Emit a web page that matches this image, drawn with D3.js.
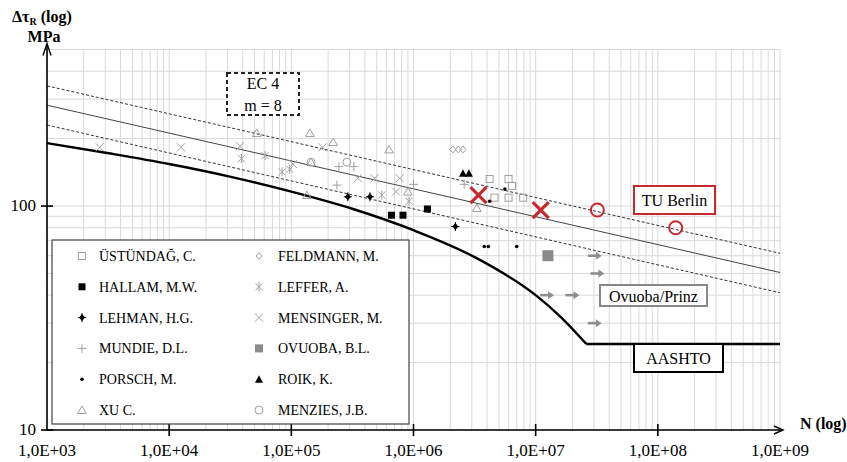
<!DOCTYPE html>
<html>
<head>
<meta charset="utf-8">
<script src="https://cdn.jsdelivr.net/npm/d3@7"></script>
<style>
  body { margin: 0; background: #fff; }
  svg, svg text { font-family: "Liberation Serif", "DejaVu Serif", serif; }
</style>
</head>
<body>
<svg id="chart" width="847" height="462" font-family="Liberation Serif, DejaVu Serif, serif"></svg>
<script>
// ---- data: [N, delta tau (MPa)] ----
var ustundag  = [[4.2e6,132],[6.0e6,132],[6.4e6,123],[4.6e6,109],[6.0e6,109],[7.9e6,109]];
var hallam    = [[6.6e5,91],[8.2e5,91],[1.3e6,97]];
var lehman    = [[2.9e5,110],[4.4e5,110],[2.2e6,81]];
var mundie    = [[2.45e5,150],[3.25e5,150],[2.36e5,124],[1.0e6,125],[2.6e6,125]];
var porsch    = [[5.6e6,119],[4.2e6,105],[3.8e6,66],[4.1e6,66],[7.0e6,66]];
var xu        = [[5.2e4,212],[1.42e5,212],[2.2e5,193],[6.3e5,179],[1.45e5,157],[1.34e5,112],[9.0e5,116],[3.3e6,98]];
var feldmann  = [[2.1e6,179],[2.33e6,179],[2.54e6,179]];
var leffer    = [[3.9e4,163],[6.1e4,168],[8.4e4,142],[9.7e4,146],[5.5e5,112],[9.2e5,105]];
var mensinger = [[2.7e3,183],[1.25e4,183],[3.8e4,185],[1.03e5,154],[1.8e5,183],[3.5e5,133],[4.8e5,133],[7.7e5,133],[7.2e5,116]];
var ovuoba    = [[1.26e7,60]];
var roik      = [[2.54e6,140],[2.84e6,140]];
var menzies   = [[2.85e5,157],[1.45e5,157]];

var tuBerlinX = [[3.4e6,112],[1.1e7,96]];
var tuBerlinO = [[3.2e7,96],[1.4e8,80]];
var runouts   = [[3.05e7,60],[3.2e7,50],[1.24e7,40],[2.0e7,40],[3.05e7,30]];

// EC 4 lines (m = 8): mean and the two dashed bounds
var ec4Mean  = [[1e3,282],[1e9,50.5]];
var ec4Upper = [[1e3,344],[1e9,61.5]];
var ec4Lower = [[1e3,230],[1e9,41]];

// AASHTO curve, then its constant-amplitude floor
var aashto = [[1e3,191],[3.2e3,172],[1e4,154],[3.2e4,135],[1e5,116],[3.2e5,97],
              [1e6,78],[3.2e6,59],[1e7,40],[1.6e7,32],[2.6e7,24.2]];
var aashtoFloor = [[2.6e7,24.2],[1e9,24.2]];

var xTicks = [1e3,1e4,1e5,1e6,1e7,1e8,1e9];
var xTickLabels = ["1,0E+03","1,0E+04","1,0E+05","1,0E+06","1,0E+07","1,0E+08","1,0E+09"];
var yTicks = [10,100];
var yTickLabels = ["10","100"];

var legendItems = [
  ["ÜSTÜNDAĞ, C.", "square", ustundag],
  ["HALLAM, M.W.", "squareFill", hallam],
  ["LEHMAN, H.G.", "diamondFill", lehman],
  ["MUNDIE, D.L.", "plus", mundie],
  ["PORSCH, M.", "dot", porsch],
  ["XU C.", "triangle", xu],
  ["FELDMANN, M.", "diamond", feldmann],
  ["LEFFER, A.", "asterisk", leffer],
  ["MENSINGER, M.", "cross", mensinger],
  ["OVUOBA, B.L.", "squareGray", ovuoba],
  ["ROIK, K.", "triangleFill", roik],
  ["MENZIES, J.B.", "circle", menzies]
];

// ---- setup ----
var svg = d3.select('#chart');
var x = d3.scaleLog().domain([1e3, 1e9]).range([47, 780]);
var y = d3.scaleLog().domain([10, 500]).range([430, 49.5]);
var gray = '#a0a0a0';
var red = '#c62a2f';

// grid lines (1..9 per decade)
var xGrid = [], yGrid = [];
for (var e = 3; e < 9; e++) for (var k = 1; k < 10; k++) xGrid.push(k * Math.pow(10, e));
xGrid.push(1e9);
for (var e2 = 1; e2 < 3; e2++) for (var k2 = 1; k2 < 10; k2++) {
  var v = k2 * Math.pow(10, e2);
  if (v <= 500) yGrid.push(v);
}

var grid = svg.append('g');
grid.selectAll('line.vx').data(xGrid).enter().append('line')
    .attr('x1', d => x(d)).attr('x2', d => x(d))
    .attr('y1', y(500)).attr('y2', y(10))
    .attr('stroke', '#d9d9d9').attr('stroke-width', 1);
grid.selectAll('line.hy').data(yGrid).enter().append('line')
    .attr('x1', x(1e3)).attr('x2', x(1e9))
    .attr('y1', d => y(d)).attr('y2', d => y(d))
    .attr('stroke', '#d9d9d9').attr('stroke-width', 1);

// EC 4 lines
var line = d3.line().x(d => x(d[0])).y(d => y(d[1]));
svg.append('path').attr('d', line(ec4Mean)).attr('fill', 'none')
   .attr('stroke', '#444').attr('stroke-width', 1);
[ec4Upper, ec4Lower].forEach(function(l) {
  svg.append('path').attr('d', line(l)).attr('fill', 'none')
     .attr('stroke', '#333').attr('stroke-width', 1).attr('stroke-dasharray', '3,2');
});

// AASHTO
var smooth = d3.line().x(d => x(d[0])).y(d => y(d[1])).curve(d3.curveMonotoneX);
svg.append('path').attr('d', smooth(aashto)).attr('fill', 'none')
   .attr('stroke', '#000').attr('stroke-width', 2.4);
svg.append('path').attr('d', line(aashtoFloor)).attr('fill', 'none')
   .attr('stroke', '#000').attr('stroke-width', 2.4);

// ---- markers ----
function marker(g, type, cx, cy) {
  switch (type) {
    case 'square':
      g.append('rect').attr('x', cx - 3.5).attr('y', cy - 3.5).attr('width', 7).attr('height', 7)
       .attr('fill', 'none').attr('stroke', gray).attr('stroke-width', 1); break;
    case 'squareFill':
      g.append('rect').attr('x', cx - 3.5).attr('y', cy - 3.5).attr('width', 7).attr('height', 7)
       .attr('fill', '#000'); break;
    case 'squareGray':
      g.append('rect').attr('x', cx - 5.5).attr('y', cy - 5.5).attr('width', 11).attr('height', 11)
       .attr('fill', '#8a8a8a'); break;
    case 'diamondFill':
      g.append('path').attr('d', 'M' + cx + ',' + (cy - 3.5) + 'L' + (cx + 3) + ',' + cy + 'L' + cx + ',' + (cy + 3.5) + 'L' + (cx - 3) + ',' + cy + 'Z')
       .attr('fill', '#000');
      g.append('path').attr('d', 'M' + (cx - 4) + ',' + cy + 'H' + (cx + 4) + 'M' + cx + ',' + (cy - 4.5) + 'V' + (cy + 4.5))
       .attr('stroke', '#000').attr('stroke-width', 1); break;
    case 'diamond':
      g.append('path').attr('d', 'M' + cx + ',' + (cy - 3.5) + 'L' + (cx + 3) + ',' + cy + 'L' + cx + ',' + (cy + 3.5) + 'L' + (cx - 3) + ',' + cy + 'Z')
       .attr('fill', 'none').attr('stroke', gray).attr('stroke-width', 1); break;
    case 'plus':
      g.append('path').attr('d', 'M' + (cx - 4.5) + ',' + cy + 'H' + (cx + 4.5) + 'M' + cx + ',' + (cy - 4.5) + 'V' + (cy + 4.5))
       .attr('stroke', gray).attr('stroke-width', 1); break;
    case 'dot':
      g.append('circle').attr('cx', cx).attr('cy', cy).attr('r', 1.8).attr('fill', '#000'); break;
    case 'triangle':
      g.append('path').attr('d', 'M' + cx + ',' + (cy - 4) + 'L' + (cx + 4.3) + ',' + (cy + 3.5) + 'L' + (cx - 4.3) + ',' + (cy + 3.5) + 'Z')
       .attr('fill', 'none').attr('stroke', gray).attr('stroke-width', 1); break;
    case 'triangleFill':
      g.append('path').attr('d', 'M' + cx + ',' + (cy - 4) + 'L' + (cx + 4) + ',' + (cy + 3.5) + 'L' + (cx - 4) + ',' + (cy + 3.5) + 'Z')
       .attr('fill', '#000'); break;
    case 'asterisk':
      g.append('path').attr('d', 'M' + (cx - 3.5) + ',' + (cy - 3.5) + 'L' + (cx + 3.5) + ',' + (cy + 3.5) +
         'M' + (cx - 3.5) + ',' + (cy + 3.5) + 'L' + (cx + 3.5) + ',' + (cy - 3.5) + 'M' + cx + ',' + (cy - 4.5) + 'V' + (cy + 4.5))
       .attr('stroke', gray).attr('stroke-width', 1); break;
    case 'cross':
      g.append('path').attr('d', 'M' + (cx - 4) + ',' + (cy - 4) + 'L' + (cx + 4) + ',' + (cy + 4) +
         'M' + (cx - 4) + ',' + (cy + 4) + 'L' + (cx + 4) + ',' + (cy - 4))
       .attr('stroke', gray).attr('stroke-width', 1); break;
    case 'circle':
      g.append('circle').attr('cx', cx).attr('cy', cy).attr('r', 4)
       .attr('fill', 'none').attr('stroke', gray).attr('stroke-width', 1); break;
  }
}

var pts = svg.append('g');
legendItems.forEach(function(item) {
  item[2].forEach(function(d) { marker(pts, item[1], x(d[0]), y(d[1])); });
});

// TU Berlin results
tuBerlinX.forEach(function(d) {
  var cx = x(d[0]), cy = y(d[1]);
  pts.append('path').attr('d', 'M' + (cx - 8) + ',' + (cy - 8) + 'L' + (cx + 8) + ',' + (cy + 8) +
     'M' + (cx - 8) + ',' + (cy + 8) + 'L' + (cx + 8) + ',' + (cy - 8))
     .attr('stroke', red).attr('stroke-width', 3.2);
});
tuBerlinO.forEach(function(d) {
  pts.append('circle').attr('cx', x(d[0])).attr('cy', y(d[1])).attr('r', 6.5)
     .attr('fill', 'none').attr('stroke', red).attr('stroke-width', 2);
});

// run-outs (arrows)
runouts.forEach(function(d) {
  var cx = x(d[0]), cy = y(d[1]);
  pts.append('path').attr('d', 'M' + (cx - 7) + ',' + cy + 'H' + (cx + 2))
     .attr('stroke', '#8f8f8f').attr('stroke-width', 2.6);
  pts.append('path').attr('d', 'M' + (cx + 1) + ',' + (cy - 4) + 'L' + (cx + 7) + ',' + cy + 'L' + (cx + 1) + ',' + (cy + 4) + 'Z')
     .attr('fill', '#8f8f8f');
});

// ---- axes ----
var ax = svg.append('g').attr('stroke', '#000').attr('stroke-width', 1.6);
ax.append('line').attr('x1', x(1e3)).attr('x2', x(1e3)).attr('y1', y(10)).attr('y2', y(500) - 4);
ax.append('line').attr('x1', x(1e3)).attr('x2', x(1e9) + 2).attr('y1', y(10)).attr('y2', y(10));
svg.append('path').attr('d', 'M' + (x(1e3) - 4) + ',' + (y(500) + 6) + 'L' + x(1e3) + ',' + (y(500) - 6) + 'L' + (x(1e3) + 4) + ',' + (y(500) + 6))
   .attr('fill', 'none').attr('stroke', '#000').attr('stroke-width', 1.4);
svg.append('path').attr('d', 'M' + (x(1e9) - 6) + ',' + (y(10) - 4) + 'L' + (x(1e9) + 3) + ',' + y(10) + 'L' + (x(1e9) - 6) + ',' + (y(10) + 4))
   .attr('fill', 'none').attr('stroke', '#000').attr('stroke-width', 1.4);

ax.selectAll('line.xt').data(xTicks.slice(1, 6)).enter().append('line')
  .attr('x1', d => x(d)).attr('x2', d => x(d)).attr('y1', y(10) - 6).attr('y2', y(10) + 6);
ax.selectAll('line.yt').data(yTicks).enter().append('line')
  .attr('x1', x(1e3) - 6).attr('x2', x(1e3) + 6).attr('y1', d => y(d)).attr('y2', d => y(d));

svg.selectAll('text.xl').data(xTicks).enter().append('text')
   .attr('x', d => x(d)).attr('y', 456).attr('text-anchor', 'middle')
   .attr('font-size', 17).text((d, i) => xTickLabels[i]);
svg.selectAll('text.yl').data(yTicks).enter().append('text')
   .attr('x', 36).attr('y', d => y(d) + 5).attr('text-anchor', 'end')
   .attr('font-size', 17).text((d, i) => yTickLabels[i]);

// axis titles
var yt = svg.append('text').attr('x', 12).attr('y', 22).attr('font-size', 16).attr('font-weight', 'bold');
yt.append('tspan').text('Δτ');
yt.append('tspan').attr('font-size', 10).attr('dy', 3).text('R');
yt.append('tspan').attr('dy', -3).text(' (log)');
svg.append('text').attr('x', 44).attr('y', 42).attr('text-anchor', 'middle')
   .attr('font-size', 16).attr('font-weight', 'bold').text('MPa');
svg.append('text').attr('x', 800).attr('y', 429).attr('font-size', 16)
   .attr('font-weight', 'bold').text('N (log)');

// ---- annotation boxes ----
function box(x0, y0, w, h, stroke, dash, lines, color) {
  svg.append('rect').attr('x', x0).attr('y', y0).attr('width', w).attr('height', h)
     .attr('fill', '#fff').attr('stroke', stroke).attr('stroke-width', 2)
     .attr('stroke-dasharray', dash);
  lines.forEach(function(t, i) {
    svg.append('text').attr('x', x0 + w / 2).attr('y', y0 + h / 2 + 6 + (i - (lines.length - 1) / 2) * 22)
       .attr('text-anchor', 'middle').attr('font-size', 16).attr('fill', color).text(t);
  });
}
box(227, 73, 72, 42, '#222', '4,3', ['EC 4', 'm = 8'], '#000');
box(634, 186, 81, 28, red, null, ['TU Berlin'], '#000');
box(600, 285, 107, 21, '#888', null, ['Ovuoba/Prinz'], '#000');
box(634, 344, 89, 28, '#000', null, ['AASHTO'], '#000');

// ---- legend ----
var lg = svg.append('g');
lg.append('rect').attr('x', 52).attr('y', 240).attr('width', 357).attr('height', 184)
  .attr('fill', '#fff').attr('stroke', '#444').attr('stroke-width', 1.2);
legendItems.forEach(function(item, i) {
  var col = Math.floor(i / 6), row = i % 6;
  var mx = col ? 259 : 82, ty = 256 + row * 30.8;
  var g = lg.append('g');
  if (item[1] === 'squareGray') {
    g.append('rect').attr('x', mx - 4).attr('y', ty - 4).attr('width', 8).attr('height', 8).attr('fill', '#8a8a8a');
  } else {
    marker(g, item[1], mx, ty);
  }
  lg.append('text').attr('x', col ? 278 : 99).attr('y', ty + 5).attr('font-size', 14).text(item[0]);
});
</script>
</body>
</html>
